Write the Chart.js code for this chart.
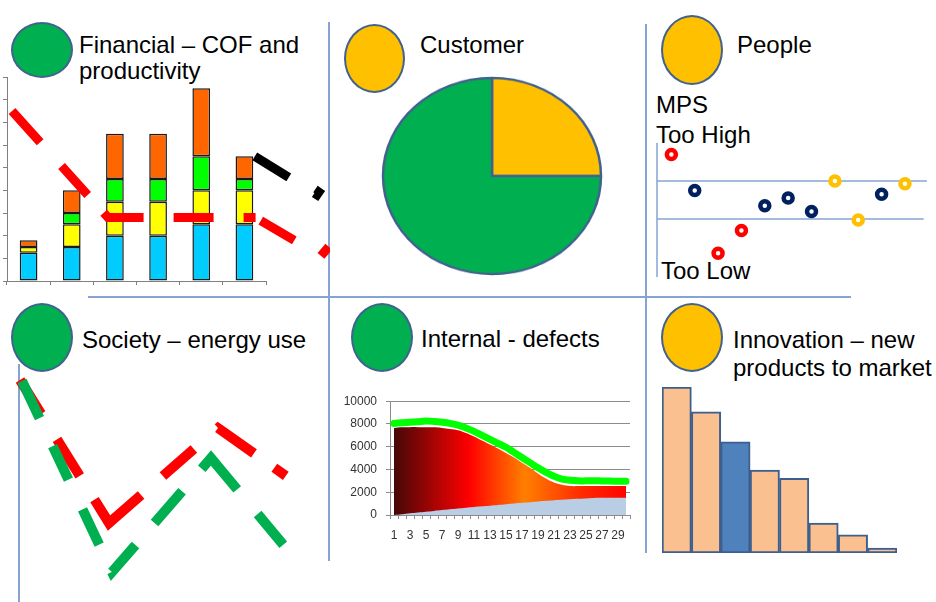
<!DOCTYPE html>
<html>
<head>
<meta charset="utf-8">
<script src="https://cdn.jsdelivr.net/npm/chart.js"></script>
<style>
  body { margin: 0; background: #fff; }
  #slide { position: relative; width: 936px; height: 602px; overflow: hidden; font-family: "Liberation Sans", Arial, sans-serif; color: #000; }
  .box { position: absolute; }
  .dot { position: absolute; box-sizing: border-box; border: 2.5px solid #41628f; border-radius: 50%; }
  .green { background: #00b050; }
  .amber { background: #ffc000; }
  .title { position: absolute; font-size: 24px; line-height: 26px; white-space: nowrap; }
  .rule { position: absolute; background: #86a3d4; }
</style>
</head>
<body>
<div id="slide">
  <!-- panel dividers -->
  <div class="rule" style="left:328px;top:22px;width:2px;height:539px"></div>
  <div class="rule" style="left:645px;top:24px;width:2px;height:529px"></div>
  <div class="rule" style="left:88px;top:296px;width:763px;height:2px"></div>

  <!-- headers -->
  <div class="dot green" style="left:11px;top:22px;width:62px;height:56px"></div>
  <div class="title" style="left:79px;top:32px">Financial – COF and<br>productivity</div>
  <div class="dot amber" style="left:344px;top:24px;width:61px;height:69px"></div>
  <div class="title" style="left:420px;top:32px">Customer</div>
  <div class="dot amber" style="left:661px;top:15px;width:62px;height:70px"></div>
  <div class="title" style="left:737px;top:32px">People</div>
  <div class="title" style="left:656px;top:92px">MPS</div>
  <div class="title" style="left:656px;top:122px">Too High</div>
  <div class="title" style="left:661px;top:258px">Too Low</div>
  <div class="dot green" style="left:11px;top:303px;width:62px;height:69px"></div>
  <div class="title" style="left:82px;top:327px">Society – energy use</div>
  <div class="dot green" style="left:351px;top:303px;width:62px;height:69px"></div>
  <div class="title" style="left:421px;top:326px">Internal - defects</div>
  <div class="dot amber" style="left:661px;top:303px;width:62px;height:69px"></div>
  <div class="title" style="left:733px;top:326px;line-height:28px">Innovation – new<br>products to market</div>

  <!-- charts -->
  <div class="box" style="left:0;top:70px;width:272px;height:220px"><canvas id="finBars"></canvas></div>
  <div class="box" style="left:0;top:70px;width:330px;height:220px"><canvas id="finLines"></canvas></div>
  <div class="box" style="left:377px;top:61px;width:230px;height:230px;transform:scaleY(0.9)"><canvas id="custPie"></canvas></div>
  <div class="box" style="left:648px;top:133px;width:288px;height:172px"><canvas id="mpsChart"></canvas></div>
  <div class="box" style="left:0;top:360px;width:330px;height:242px"><canvas id="energyChart"></canvas></div>
  <div class="box" style="left:340px;top:385px;width:300px;height:165px"><canvas id="defectChart"></canvas></div>
  <div class="box" style="left:655px;top:380px;width:250px;height:180px"><canvas id="innovChart"></canvas></div>
</div>

<script>
/* Balanced scorecard slide — six small charts */

// Financial – COF and productivity (stacked bars + trend lines)
var finLabels = ['1', '2', '3', '4', '5', '6'];
var finBlue   = [1.25, 1.5, 2, 2, 2.5, 2.5];
var finYellow = [0.25, 1, 1.5, 1.5, 1.5, 1.5];
var finGreen  = [0, 0.5, 1, 1, 1.5, 0.5];
var finOrange = [0.3, 1, 2, 2, 3, 1];
var finRedX   = [-0.43, 1.84, 5.26, 6.77, 7.4];
var finRedY   = [7.6, 2.8, 2.8, 1.1, 2.5];
var finBlackX = [5.24, 6.68, 7.4];
var finBlackY = [5.5, 3.8, 5.8];

// Customer
var custLabels = ['Met', 'Not met'];
var custValues = [25, 75];

// People – MPS
var mpsX      = [1, 2, 3, 4, 5, 6, 7, 8, 9, 10, 11];
var mpsY      = [7.4, 5.5, 2.2, 3.4, 4.7, 5.1, 4.4, 6.0, 3.95, 5.3, 5.85];
var mpsColors = ['#ff0000', '#002060', '#ff0000', '#ff0000', '#002060', '#002060', '#002060', '#ffc000', '#ffc000', '#002060', '#ffc000'];
var mpsUpper = 6, mpsLower = 4;

// Society – energy use
var energyGreenX = [0.3, 9.3, 19.2, 26.7];
var energyGreenY = [22.1, 3.0, 14.4, 5.4];
var energyRedX   = [0.1, 9.0, 19.9, 26.7];
var energyRedY   = [22.2, 7.9, 17.4, 12.6];

// Internal - defects
var defectDays   = ['1','2','3','4','5','6','7','8','9','10','11','12','13','14','15','16','17','18','19','20','21','22','23','24','25','26','27','28','29','30'];
var defectTarget = [8050, 8100, 8150, 8200, 8250, 8220, 8150, 8050, 7900, 7650, 7350, 7000, 6650, 6300, 5950, 5500, 5050, 4600, 4150, 3750, 3400, 3150, 3050, 3000, 3000, 3010, 2990, 2980, 2970, 2970];
var defectOpen   = [7650, 7700, 7720, 7720, 7710, 7700, 7650, 7550, 7450, 7200, 6900, 6550, 6200, 5850, 5450, 5050, 4600, 4150, 3650, 3200, 2850, 2650, 2550, 2540, 2550, 2550, 2540, 2550, 2550, 2550];
var defectClosed = [0, 70, 150, 220, 290, 360, 430, 500, 570, 640, 700, 760, 820, 880, 950, 1010, 1070, 1130, 1190, 1250, 1300, 1340, 1380, 1420, 1460, 1500, 1510, 1520, 1520, 1520];

// Innovation – new products to market
var innovLabels = ['1', '2', '3', '4', '5', '6', '7', '8'];
var innovValues = [100, 85, 67, 50, 45, 18, 11, 3];
var innovHighlight = 2;

Chart.defaults.font.family = '"Liberation Sans", Arial, sans-serif';
Chart.defaults.animation = false;
Chart.defaults.maintainAspectRatio = false;
Chart.defaults.layout.autoPadding = false;
Chart.defaults.plugins.legend.display = false;
Chart.defaults.plugins.tooltip.enabled = false;

function pts(xs, ys) {
    return xs.map(function(x, i) { return { x: x, y: ys[i] }; });
}
function hiddenLinear(min, max) {
    return { type: 'linear', display: false, min: min, max: max };
}
function dashed(xs, ys, color, width, dash) {
    return { data: pts(xs, ys), showLine: true, borderColor: color, borderWidth: width, borderDash: dash, pointRadius: 0, clip: false };
}

// --- Financial bars
function finBar(label, data, color) {
    return { label: label, data: data, backgroundColor: color, borderColor: '#1a1a1a', borderWidth: 1.5, borderSkipped: false };
}
new Chart(document.getElementById('finBars'), {
    type: 'bar',
    data: {
        labels: finLabels,
        datasets: [
            finBar('Base', finBlue, '#00ccff'),
            finBar('Tier 2', finYellow, '#ffff00'),
            finBar('Tier 3', finGreen, '#00ff00'),
            finBar('Tier 4', finOrange, '#ff6600')
        ]
    },
    options: {
        layout: { padding: { left: 1, top: 7, right: 6, bottom: 3 } },
        datasets: { bar: { categoryPercentage: 1, barPercentage: 0.41 } },
        scales: {
            x: { stacked: true, ticks: { display: false }, grid: { offset: true, drawOnChartArea: false, tickLength: 4, color: '#808080' }, border: { color: '#808080' },
                 afterFit: function(s) { s.height = 6; } },
            y: { stacked: true, min: 0, max: 9, ticks: { display: false, stepSize: 1 }, grid: { drawOnChartArea: false, tickLength: 4, color: '#808080' }, border: { color: '#808080' },
                 afterFit: function(s) { s.width = 6; } }
        }
    }
});

new Chart(document.getElementById('finLines'), {
    type: 'scatter',
    data: {
        datasets: [
            dashed(finRedX, finRedY, '#ff0000', 9, [0, 3, 42, 32, 39, 24, 42, 30, 40, 30, 12, 6, 39, 31, 12, 200]),
            dashed(finBlackX, finBlackY, '#000000', 9, [40, 30, 11, 200])
        ]
    },
    options: {
        layout: { padding: { left: 7, top: 7, right: 0, bottom: 9 } },
        scales: { x: hiddenLinear(-0.5, -0.5 + 323 / 43.17), y: hiddenLinear(0, 9) }
    }
});

// --- Customer pie
new Chart(document.getElementById('custPie'), {
    type: 'pie',
    data: { labels: custLabels, datasets: [{ data: custValues, backgroundColor: ['#ffc000', '#00b050'], borderColor: '#41628f', borderWidth: 2.5, hoverOffset: 0 }] },
    options: { radius: 109, layout: { padding: 0 } }
});

// --- People MPS
new Chart(document.getElementById('mpsChart'), {
    type: 'scatter',
    data: {
        datasets: [
            { data: pts(mpsX, mpsY), pointRadius: 4.5, pointBorderWidth: 4.5, pointBackgroundColor: '#ffffff', pointBorderColor: mpsColors, clip: false },
            { data: [{ x: 0.385, y: mpsUpper }, { x: 11.94, y: mpsUpper }], showLine: true, borderColor: '#86a3d4', borderWidth: 1.5, pointRadius: 0, clip: false },
            { data: [{ x: 0.385, y: mpsLower }, { x: 11.8, y: mpsLower }], showLine: true, borderColor: '#86a3d4', borderWidth: 1.5, pointRadius: 0, clip: false },
            { data: [{ x: 0.385, y: 0.95 }, { x: 0.385, y: 8 }], showLine: true, borderColor: '#86a3d4', borderWidth: 1.5, pointRadius: 0, clip: false }
        ]
    },
    options: {
        layout: { padding: { top: 10, bottom: 10 } },
        scales: { x: hiddenLinear(0, 288 / 23.36), y: hiddenLinear(0, 8) }
    }
});

// --- Society energy use (green drawn over red)
new Chart(document.getElementById('energyChart'), {
    type: 'scatter',
    data: {
        datasets: [
            dashed(energyGreenX, energyGreenY, '#00b050', 10, [41, 31, 37, 33, 39, 30, 36, 29, 42, 30, 55, 32, 40, 200]),
            dashed(energyRedX, energyRedY, '#ff0000', 10, [40, 30, 43, 28, 70, 29, 41, 32, 44, 25, 14, 200])
        ]
    },
    options: {
        layout: { padding: { left: 19, top: 5, right: 0, bottom: 0 } },
        scales: {
            x: hiddenLinear(0, 31.1),
            y: { type: 'linear', min: 0, max: 23.7, ticks: { display: false }, grid: { display: false }, border: { display: true, color: '#86a3d4', width: 2 },
                 afterFit: function(s) { s.width = 0; } }
        }
    }
});

// --- Internal defects
function defectGradient(context) {
    var area = context.chart.chartArea;
    if (!area) return '#ff0000';
    var g = context.chart.ctx.createLinearGradient(area.left, 0, area.right, 0);
    g.addColorStop(0, '#3c0808');
    g.addColorStop(0.33, '#ff0000');
    g.addColorStop(0.56, '#ff7f00');
    g.addColorStop(0.8, '#ff2a00');
    g.addColorStop(1, '#ff0000');
    return g;
}
new Chart(document.getElementById('defectChart'), {
    type: 'line',
    data: {
        labels: defectDays,
        datasets: [
            { label: 'Target', data: defectTarget, borderColor: '#00ff00', borderWidth: 7, borderCapStyle: 'round', tension: 0.4, pointRadius: 0, fill: false, clip: false },
            { label: 'Closed', data: defectClosed, backgroundColor: '#b9cde5', borderWidth: 0, tension: 0.4, pointRadius: 0, fill: 'origin' },
            { label: 'Open', data: defectOpen, backgroundColor: defectGradient, borderWidth: 0, tension: 0.4, pointRadius: 0, fill: 'origin' }
        ]
    },
    options: {
        layout: { padding: { left: 0, top: 10, right: 10, bottom: 0 } },
        scales: {
            x: { offset: true, grid: { offset: true, drawOnChartArea: false, tickLength: 4, color: '#8c8c8c' }, border: { color: '#8c8c8c' },
                 ticks: { autoSkip: false, maxRotation: 0, padding: 9, color: '#333', font: { size: 12 },
                          callback: function(v, i) { return i % 2 === 0 ? this.getLabelForValue(v) : ''; } },
                 afterFit: function(s) { s.height = 35; } },
            y: { min: 0, max: 10000, ticks: { stepSize: 2000, padding: 9, color: '#333', font: { size: 12 },
                          callback: function(v) { return String(v); } },
                 grid: { tickLength: 4, color: '#8c8c8c' }, border: { color: '#8c8c8c' },
                 afterFit: function(s) { s.width = 50; } }
        }
    }
});

// --- Innovation bars
new Chart(document.getElementById('innovChart'), {
    type: 'bar',
    data: {
        labels: innovLabels,
        datasets: [{
            data: innovValues,
            backgroundColor: innovValues.map(function(v, i) { return i === innovHighlight ? '#4f81bd' : '#fac090'; }),
            borderColor: '#3d5f8d', borderWidth: 2, borderSkipped: false,
            categoryPercentage: 1, barPercentage: 1
        }]
    },
    options: {
        layout: { padding: { left: 7, top: 7, right: 8, bottom: 7 } },
        scales: { x: { display: false }, y: { display: false, min: 0, max: 100 } }
    }
});
</script>
</body>
</html>
